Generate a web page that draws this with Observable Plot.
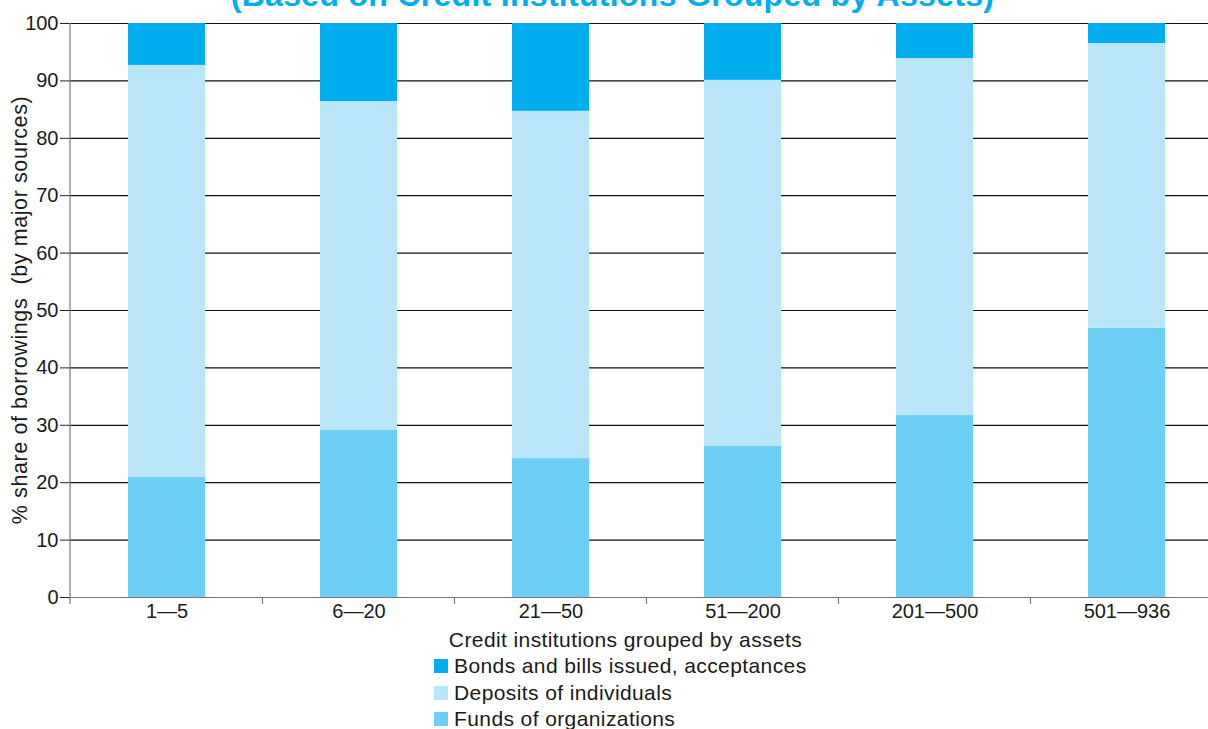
<!DOCTYPE html>
<html><head><meta charset="utf-8">
<script src="https://cdn.jsdelivr.net/npm/d3@7"></script>
<script src="https://cdn.jsdelivr.net/npm/@observablehq/plot@0.6"></script>
<style>
html,body{margin:0;padding:0;width:1208px;height:729px;overflow:hidden;background:#fff;font-family:"Liberation Sans",Arial,sans-serif;}
#chart{position:absolute;left:0;top:0;width:1208px;overflow:hidden;}
#chart svg{overflow:hidden;}
#title{position:absolute;left:0;width:1225px;text-align:center;top:-21px;font-weight:bold;font-size:32px;line-height:32px;letter-spacing:0.3px;color:#00AEEF;white-space:nowrap;}
#xlabel{position:absolute;left:0;width:1251px;text-align:center;top:628px;font-size:21px;line-height:24px;letter-spacing:0.4px;color:#1a1a1a;}
#legend{position:absolute;left:434px;top:653px;font-size:21px;letter-spacing:0.4px;color:#1a1a1a;}
.item{height:26.6px;display:flex;align-items:center;}
.sw{width:14px;height:14px;margin-right:6px;flex:none;}
</style></head><body>
<div id="chart"></div>
<div id="title">(Based on Credit Institutions Grouped by Assets)</div>
<div id="xlabel">Credit institutions grouped by assets</div>
<div id="legend"></div>
<script>
const groups = ["1—5", "6—20", "21—50", "51—200", "201—500", "501—936"];
const seriesNames = ["Funds of organizations", "Deposits of individuals", "Bonds and bills issued, acceptances"];
const funds = [20.9, 29.1, 24.2, 26.3, 31.7, 46.9];
const deposits = [71.8, 57.3, 60.5, 63.8, 62.2, 49.6];
const bonds = [7.3, 13.6, 15.3, 9.9, 6.1, 3.5];
const seriesColors = ["#6DCFF6", "#BAE6F9", "#00AEEF"];
const yTicks = [0, 10, 20, 30, 40, 50, 60, 70, 80, 90, 100];
const yLabel = "% share of borrowings  (by major sources)";
const legendOrder = ["Bonds and bills issued, acceptances", "Deposits of individuals", "Funds of organizations"];

const seriesValues = [funds, deposits, bonds];
const rows = [];
seriesNames.forEach((s, i) => groups.forEach((g, j) => rows.push({group: g, series: s, value: seriesValues[i][j]})));

const W = 1208, H = 625, mL = 70, mT = 23, mB = 28;
const plot = Plot.plot({
  width: W, height: H,
  marginTop: mT, marginLeft: mL, marginRight: 0, marginBottom: mB,
  style: {fontFamily: '"Liberation Sans", Arial, sans-serif', fontSize: "20px", color: "#1a1a1a", background: "#fff"},
  x: {domain: groups, range: [mL, mL + 192 * groups.length], paddingInner: 0.6, paddingOuter: 0.3, axis: null},
  y: {domain: [0, 100], axis: null},
  color: {domain: seriesNames, range: seriesColors},
  marks: [
    Plot.ruleY(yTicks.filter(d => d > 0), {stroke: "#111", strokeWidth: 1.2}),
    Plot.barY(rows, {x: "group", y: "value", fill: "series", z: "series", order: seriesNames}),
    Plot.ruleY([0], {stroke: "#777", strokeWidth: 1.2}),
    Plot.axisY({ticks: yTicks, tickSize: 10, tickPadding: 2, stroke: "#222", fontSize: 20, label: null}),
    Plot.axisX({tickSize: 0, tickPadding: 6, fontSize: 20, label: null})
  ]
});
document.getElementById("chart").appendChild(plot);

// axis line, band-boundary ticks, rotated y label derived from plot scales
const svg = d3.select(plot);
const xs = plot.scale("x"), ys = plot.scale("y");
const y0 = ys.apply(0), y100 = ys.apply(100);
svg.append("line").attr("x1", mL).attr("x2", mL).attr("y1", y0 + 7).attr("y2", y100)
  .attr("stroke", "#777").attr("stroke-width", 1.2);
groups.slice(1).forEach(g => {
  const xb = xs.apply(g) - (xs.step - xs.bandwidth) / 2;
  svg.append("line").attr("x1", xb).attr("x2", xb).attr("y1", y0).attr("y2", y0 + 7)
    .attr("stroke", "#777").attr("stroke-width", 1.2);
});
svg.append("text")
  .attr("transform", `translate(20,${(y0 + y100) / 2}) rotate(-90)`)
  .attr("text-anchor", "middle").attr("dominant-baseline", "central")
  .style("white-space", "pre").style("letter-spacing", "0.6px")
  .attr("font-size", 21.5).attr("fill", "#1a1a1a")
  .text(yLabel);

const legend = d3.select("#legend");
legendOrder.forEach(name => {
  const it = legend.append("div").attr("class", "item");
  it.append("div").attr("class", "sw").style("background", seriesColors[seriesNames.indexOf(name)]);
  it.append("span").text(name);
});
</script>
</body></html>
